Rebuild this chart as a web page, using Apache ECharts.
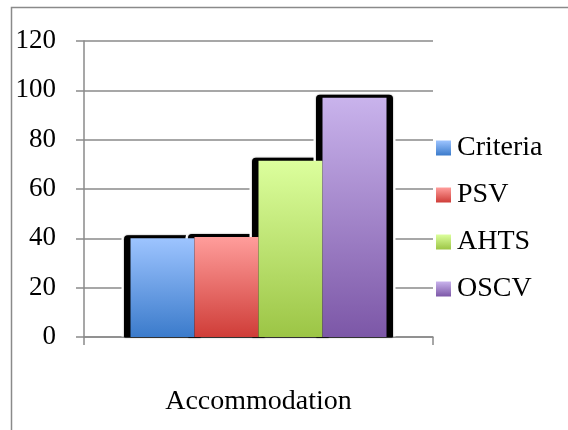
<!DOCTYPE html>
<html>
<head>
<meta charset="utf-8">
<script src="https://cdn.jsdelivr.net/npm/echarts@6/dist/echarts.min.js"></script>
<style>
  html, body { margin: 0; padding: 0; background: #fff; }
  #chart { width: 568px; height: 430px; }
</style>
</head>
<body>
<div id="chart"></div>
<script>
// Chart data
const categories = ['Accommodation'];
const seriesNames = ['Criteria', 'PSV', 'AHTS', 'OSCV'];
const criteria = [40];
const psv = [40.5];
const ahts = [71.5];
const oscv = [97];
const yTicks = [0, 20, 40, 60, 80, 100, 120];

const seriesValues = [criteria, psv, ahts, oscv];

// Vertical gradient fills (top colour, bottom colour) per series
const fills = [
  ['#9dc4ff', '#3b7bcb'],
  ['#ff9d9b', '#cf3d38'],
  ['#dcff9d', '#9cc545'],
  ['#c9b3ec', '#7c57a7']
];

const FONT = '"Liberation Serif", "Times New Roman", serif';
const LINE = '#8a8a8a';
const BAR_WIDTH = 64;

function grad(pair) {
  return new echarts.graphic.LinearGradient(0, 0, 0, 1, [
    { offset: 0, color: pair[0] },
    { offset: 1, color: pair[1] }
  ]);
}

// Dark drop shadow behind each bar, with a thin white halo
const shadowData = [];
seriesValues.forEach((vals, s) => {
  vals.forEach((v, c) => shadowData.push([c, v, s]));
});

function renderShadow(params, api) {
  const c = api.value(0), v = api.value(1), s = api.value(2);
  const top = api.coord([c, v]);
  const base = api.coord([c, 0]);
  const n = seriesValues.length;
  const left = top[0] - n * BAR_WIDTH / 2 + s * BAR_WIDTH;
  const h = base[1] - top[1];
  return {
    type: 'group',
    children: [
      {
        type: 'rect',
        shape: { x: left - 9, y: top[1] - 5.5, width: BAR_WIDTH + 18, height: h + 5, r: [6, 6, 0, 0] },
        style: { fill: '#ffffff' }
      },
      {
        type: 'rect',
        shape: { x: left - 6.5, y: top[1] - 3, width: BAR_WIDTH + 13, height: h + 3.5, r: [4, 4, 1, 1] },
        style: { fill: '#000000', shadowBlur: 1.5, shadowColor: 'rgba(0,0,0,0.6)' }
      }
    ]
  };
}

const barSeries = seriesNames.map((name, i) => ({
  name: name,
  type: 'bar',
  data: seriesValues[i],
  barWidth: BAR_WIDTH,
  barGap: '0%',
  z: 3,
  itemStyle: { color: grad(fills[i]) }
}));

const chart = echarts.init(document.getElementById('chart'), null, { renderer: 'canvas' });

chart.setOption({
  animation: false,
  backgroundColor: '#ffffff',
  grid: { left: 84, right: 135, top: 41, bottom: 93, containLabel: false },
  graphic: [{
    type: 'polyline',
    silent: true,
    shape: { points: [[11.5, 430], [11.5, 7.5], [568, 7.5]] },
    style: { stroke: LINE, lineWidth: 1.5, fill: null }
  }],
  legend: {
    data: seriesNames,
    orient: 'vertical',
    left: 436,
    top: 134,
    padding: 0,
    itemWidth: 15,
    itemHeight: 15,
    itemGap: 19,
    icon: 'rect',
    textStyle: { fontFamily: FONT, fontSize: 28, color: '#000', padding: [0, 0, 0, 1] }
  },
  xAxis: {
    type: 'category',
    data: categories,
    axisLine: { show: true, lineStyle: { color: LINE, width: 1.5 } },
    axisTick: { show: true, length: 8, lineStyle: { color: LINE, width: 1.5 } },
    axisLabel: { margin: 51, fontFamily: FONT, fontSize: 28, color: '#000' }
  },
  yAxis: {
    type: 'value',
    min: yTicks[0],
    max: yTicks[yTicks.length - 1],
    interval: yTicks[1] - yTicks[0],
    axisLine: { show: true, lineStyle: { color: LINE, width: 1.5 } },
    axisTick: { show: true, length: 8, lineStyle: { color: LINE, width: 1.5 } },
    splitLine: { show: true, lineStyle: { color: LINE, width: 1.5 } },
    axisLabel: { margin: 28, fontFamily: FONT, fontSize: 27, color: '#000' }
  },
  series: [
    {
      type: 'custom',
      name: 'shadow',
      z: 2,
      silent: true,
      renderItem: renderShadow,
      encode: { x: 0, y: 1 },
      data: shadowData
    }
  ].concat(barSeries)
});
</script>
</body>
</html>
